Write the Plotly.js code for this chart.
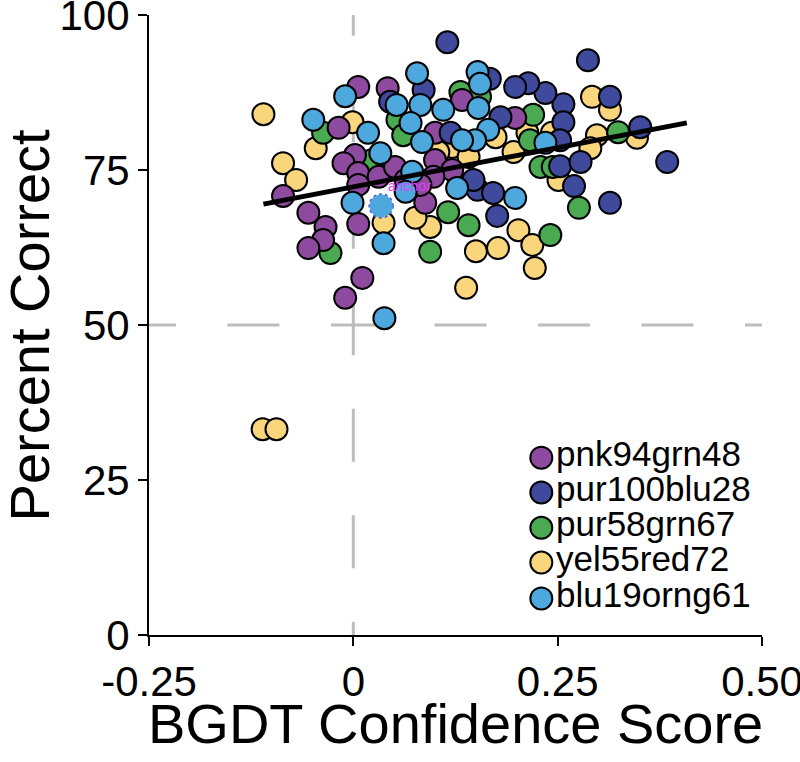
<!DOCTYPE html>
<html>
<head>
<meta charset="utf-8">
<script src="https://cdn.plot.ly/plotly-3.0.1.min.js"></script>
<style>html,body{margin:0;padding:0;background:#fff;}#chart{width:800px;height:762px;}</style>
</head>
<body>
<div id="chart"></div>
<script>
// ---- data ----
const seriesNames = ["pnk94grn48", "pur100blu28", "pur58grn67", "yel55red72", "blu19orng61"];
const seriesColors = ["#8E4A9E", "#3F4A9C", "#4AAA52", "#F9D57C", "#4DA8DE"];

const pnkX = [0.006, 0.042, -0.018, 0.133, 0.198, 0.100, -0.086, -0.055, -0.034, -0.037, -0.055, 0.006, 0.011, -0.010, 0.088, 0.002, -0.012, 0.006, 0.031, 0.051, 0.100, 0.121, 0.098, 0.006, 0.064, 0.082];
const pnkY = [88.4, 88.2, 81.8, 86.3, 83.4, 81.0, 70.8, 68.1, 65.8, 63.7, 62.4, 66.3, 57.6, 54.4, 69.7, 77.4, 76.1, 74.5, 73.9, 75.5, 76.6, 75.0, 73.9, 72.6, 73.4, 72.6];

const purX = [0.115, 0.287, 0.314, 0.257, 0.257, 0.235, 0.214, 0.198, 0.167, 0.086, 0.045, 0.180, 0.119, 0.351, 0.384, 0.314, 0.253, 0.278, 0.270, 0.176, 0.152, 0.171, 0.147, 0.253];
const purY = [95.6, 92.7, 86.8, 85.6, 82.7, 87.4, 89.0, 88.4, 89.7, 87.9, 86.0, 83.5, 81.0, 81.9, 76.3, 69.7, 75.6, 76.3, 72.4, 67.6, 71.8, 71.3, 73.4, 79.8];

const grnX = [-0.037, 0.054, 0.131, 0.155, 0.220, 0.324, 0.116, 0.141, 0.241, 0.276, 0.094, -0.028, 0.229, 0.244, 0.023, 0.061, 0.216];
const grnY = [81.0, 83.1, 87.6, 86.8, 83.9, 81.1, 68.2, 66.1, 64.5, 68.9, 61.8, 61.6, 75.5, 75.5, 76.6, 80.6, 79.8];

const yelX = [-0.110, -0.086, -0.070, -0.111, -0.094, -0.046, -0.001, 0.094, 0.150, 0.177, 0.202, 0.219, 0.222, 0.138, 0.292, 0.314, 0.298, 0.347, 0.196, 0.290, 0.251, 0.213, 0.037, 0.076, 0.121, 0.141, 0.104, 0.174, 0.243];
const yelY = [84.0, 76.1, 73.4, 33.2, 33.2, 78.5, 82.7, 65.8, 61.9, 62.4, 65.3, 62.9, 59.2, 56.0, 86.8, 84.7, 80.6, 80.2, 77.9, 78.5, 73.4, 81.0, 66.5, 67.3, 78.7, 77.1, 77.9, 80.3, 81.0];

const bluX = [-0.049, -0.010, 0.018, 0.033, 0.078, 0.053, 0.082, 0.070, 0.084, 0.110, 0.152, 0.155, 0.153, 0.165, 0.149, 0.133, 0.127, 0.198, -0.001, 0.037, 0.038, 0.235, 0.072, 0.064];
const bluY = [83.1, 86.9, 81.0, 77.7, 90.6, 85.5, 85.5, 82.6, 79.5, 84.7, 90.8, 88.9, 85.0, 81.5, 79.8, 79.8, 72.1, 70.5, 69.7, 63.2, 51.1, 79.4, 74.7, 71.5];

// highlighted point with the "anchor" label
const anchorX = [0.034];
const anchorY = [69.2];
const anchorLabel = "anchor";

// fitted regression line
const fitX = [-0.11, 0.408];
const fitY = [69.5, 82.6];

// axes
const xTitle = "BGDT Confidence Score";
const yTitle = "Percent Correct";
const xTickVals = [-0.25, 0, 0.25, 0.5];
const xTickText = ["-0.25", "0", "0.25", "0.50"];
const yTickVals = [0, 25, 50, 75, 100];
const yTickText = ["0", "25", "50", "75", "100"];

// legend placement (fractions of the plot area)
const legendX = [0.640, 0.640, 0.640, 0.640, 0.640];
const legendY = [0.286, 0.230, 0.173, 0.117, 0.059];

const FONT = "Liberation Sans, Arial, Helvetica, sans-serif";

function pts(x, y, i) {
  return {
    type: "scatter", mode: "markers", x: x, y: y, name: seriesNames[i],
    marker: {size: 22, color: seriesColors[i], line: {color: "#000", width: 2}},
    hoverinfo: "x+y+name"
  };
}

const data = [
  pts(yelX, yelY, 3),
  pts(grnX, grnY, 2),
  pts(pnkX, pnkY, 0),
  pts(purX, purY, 1),
  pts(bluX, bluY, 4),
  {type: "scatter", mode: "markers", x: anchorX, y: anchorY,
   marker: {size: 23, color: seriesColors[4], line: {width: 0}}, hoverinfo: "skip"},
  {type: "scatter", mode: "lines", x: fitX, y: fitY,
   line: {color: "#000", width: 5}, hoverinfo: "skip"},
  {type: "scatter", mode: "markers+text", xaxis: "x2", yaxis: "y2",
   x: legendX, y: legendY, text: seriesNames, textposition: "middle right",
   cliponaxis: false,
   textfont: {family: FONT, size: 35, color: "#000"},
   marker: {size: 22, color: seriesColors, line: {color: "#000", width: 2}},
   hoverinfo: "skip"}
];

const layout = {
  width: 800, height: 762,
  margin: {l: 149, r: 38, t: 15, b: 127},
  paper_bgcolor: "#fff", plot_bgcolor: "#fff",
  showlegend: false,
  font: {family: FONT, color: "#000"},
  xaxis: {
    range: [-0.25, 0.5], tickvals: xTickVals, ticktext: xTickText,
    ticks: "outside", ticklen: 9, tickwidth: 2, tickcolor: "#000",
    showline: true, linecolor: "#000", linewidth: 2,
    showgrid: false, zeroline: false, ticklabeloverflow: "allow",
    tickfont: {family: FONT, size: 42, color: "#000"}
  },
  yaxis: {
    range: [0, 100], tickvals: yTickVals, ticktext: yTickText,
    ticks: "outside", ticklen: 9, tickwidth: 2, tickcolor: "#000",
    showline: true, linecolor: "#000", linewidth: 2,
    showgrid: false, zeroline: false, ticklabeloverflow: "allow",
    tickfont: {family: FONT, size: 42, color: "#000"}
  },
  xaxis2: {overlaying: "x", anchor: "y2", range: [0, 1], visible: false, fixedrange: true},
  yaxis2: {overlaying: "y", anchor: "x2", range: [0, 1], visible: false, fixedrange: true},
  shapes: [
    {type: "line", xref: "x", yref: "y", x0: 0, x1: 0, y0: 105.2, y1: -10, layer: "below",
     line: {color: "#BDBDBD", width: 3, dash: "53px,53.5px"}},
    {type: "line", xref: "x", yref: "y", x0: -0.2806, x1: 0.55, y0: 50, y1: 50, layer: "below",
     line: {color: "#BDBDBD", width: 3, dash: "52px,51.5px"}},
    {type: "circle", xref: "x", yref: "y", xsizemode: "pixel", ysizemode: "pixel",
     xanchor: anchorX[0], yanchor: anchorY[0], x0: -12, x1: 12, y0: -12, y1: 12,
     layer: "above", line: {color: "#4A62D8", width: 1.5, dash: "dot"}}
  ],
  annotations: [
    {xref: "x", yref: "y", x: anchorX[0], y: anchorY[0], text: anchorLabel, showarrow: false,
     xshift: 28, yshift: 20, font: {family: FONT, size: 14, color: "#E040FB"}},
    {xref: "paper", yref: "paper", x: 0.5, y: -0.143, xanchor: "center", yanchor: "middle",
     text: xTitle, showarrow: false, font: {family: FONT, size: 56, color: "#000"}},
    {xref: "paper", yref: "paper", x: -0.195, y: 0.5, xanchor: "center", yanchor: "middle",
     textangle: -90, text: yTitle, showarrow: false, font: {family: FONT, size: 56, color: "#000"}}
  ]
};

Plotly.newPlot("chart", data, layout, {displayModeBar: false, staticPlot: true});
</script>
</body>
</html>
